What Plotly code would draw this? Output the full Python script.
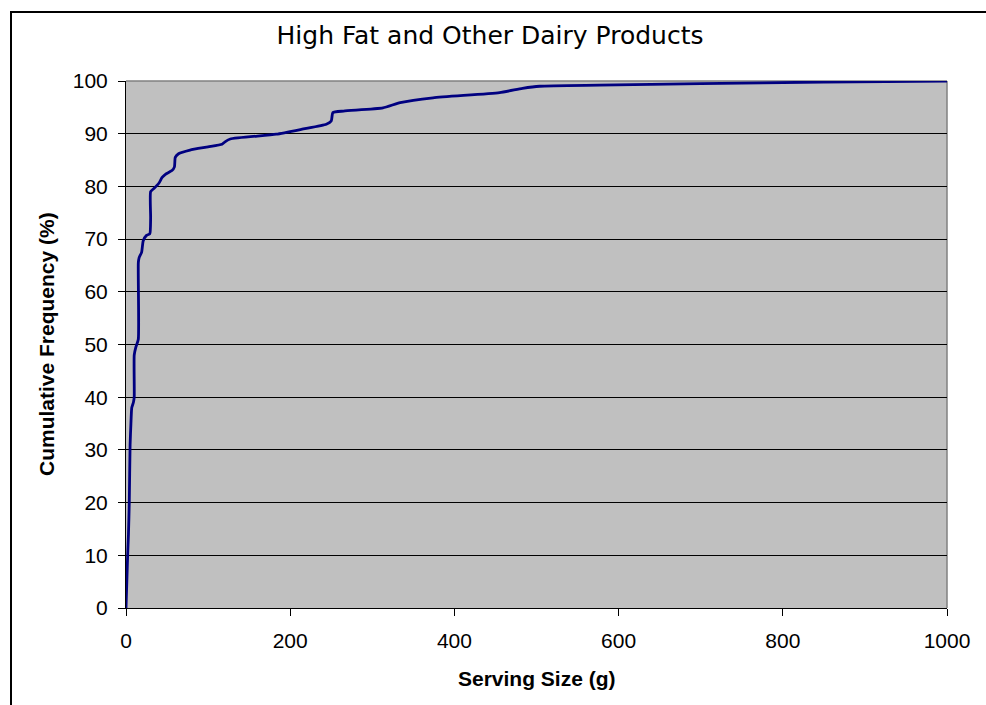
import plotly.graph_objects as go

# Cumulative distribution of serving sizes
serving_size_g = [0, 1, 2, 3, 4, 5, 6, 7, 9, 10, 10, 12, 15, 15, 16, 19, 21, 25, 29,
                  30, 30, 34, 40, 44, 48, 56, 59, 60, 64, 78, 100, 117, 121, 127,
                  183, 216, 244, 250, 252, 265, 313, 334, 374, 455, 483, 504, 577,
                  700, 850, 1000]
cumulative_pct = [0, 5, 10, 14, 20, 31, 35, 38, 39, 40, 48, 49.5, 51, 65.5, 66.5, 67.5,
                  69.7, 70.7, 71, 74, 79, 79.6, 80.6, 81.7, 82.3, 83, 83.7, 85.5, 86.2,
                  86.9, 87.5, 88, 88.5, 89, 89.9, 90.9, 91.8, 92.4, 94, 94.3, 94.9, 95.9,
                  96.8, 97.8, 98.6, 99, 99.2, 99.5, 99.8, 100]

x_ticks = [0, 200, 400, 600, 800, 1000]
y_ticks = [0, 10, 20, 30, 40, 50, 60, 70, 80, 90, 100]

W, H = 986, 705
ML, MR, MT, MB = 126, 39, 81, 97
PW, PH = W - ML - MR, H - MT - MB

fig = go.Figure()
fig.add_trace(go.Scatter(
    x=serving_size_g, y=cumulative_pct, mode="lines",
    line=dict(color="#000080", width=2.8, shape="spline", smoothing=0.5),
    hoverinfo="skip", showlegend=False,
))

tick_font = dict(family="Liberation Sans, Arial", size=21, color="black")
axis_title_font = dict(family="Liberation Sans, Arial", size=21, color="black")

fig.update_layout(
    width=W, height=H,
    margin=dict(l=ML, r=MR, t=MT, b=MB, pad=0),
    paper_bgcolor="white",
    plot_bgcolor="#C0C0C0",
    title=dict(text="High Fat and Other Dairy Products",
               font=dict(family="DejaVu Sans", size=25, color="black"),
               x=490 / W, xanchor="center", y=1 - 35 / H, yanchor="middle"),
    xaxis=dict(range=[0, 1000], tickvals=x_ticks, ticktext=[str(v) for v in x_ticks],
               showgrid=False, zeroline=False, showline=True, linecolor="black",
               linewidth=1, ticks="outside", ticklen=7, tickcolor="black",
               tickfont=tick_font, ticklabelstandoff=7, fixedrange=True),
    yaxis=dict(range=[0, 100], tickvals=y_ticks, ticktext=[str(v) for v in y_ticks],
               showgrid=True, gridcolor="black", gridwidth=1, zeroline=False,
               showline=True, linecolor="black", linewidth=1, ticks="outside",
               ticklen=7, tickcolor="black", tickfont=tick_font,
               ticklabelstandoff=6, fixedrange=True),
    shapes=[
        # plot area border (top and right) in grey
        dict(type="line", xref="paper", yref="paper", x0=0, x1=1, y0=1, y1=1,
             line=dict(color="#808080", width=1.5), layer="below"),
        dict(type="line", xref="paper", yref="paper", x0=1, x1=1, y0=0, y1=1,
             line=dict(color="#808080", width=1.5), layer="below"),
        # chart frame
        dict(type="rect", xref="paper", yref="paper",
             x0=(11 - ML) / PW, x1=(1010 - ML) / PW,
             y0=-(730 - (H - MB)) / PH, y1=1 + (MT - 12) / PH,
             line=dict(color="black", width=2)),
    ],
    annotations=[
        dict(text="<b>Serving Size (g)</b>", xref="paper", yref="paper",
             x=(537 - ML) / PW, y=-(678 - (H - MB)) / PH, xanchor="center",
             yanchor="middle", showarrow=False, font=axis_title_font),
        dict(text="<b>Cumulative Frequency (%)</b>", xref="paper", yref="paper",
             x=(46.5 - ML) / PW, y=0.5, xanchor="center", yanchor="middle",
             textangle=-90, showarrow=False, font=axis_title_font),
    ],
)

fig.write_html("out.html", config={"displayModeBar": False})
